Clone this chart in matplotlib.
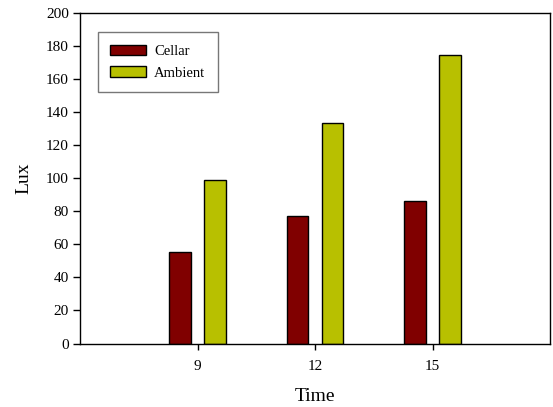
import numpy as np
import matplotlib
matplotlib.use("Agg")
import matplotlib.pyplot as plt

# Data
times = [9, 12, 15]
cellar = [55.5, 77, 86]
ambient = [99, 133, 174.5]

plt.rcParams['font.family'] = ['Liberation Serif', 'DejaVu Serif']

fig = plt.figure(figsize=(5.53, 4.07), dpi=100)
ax = fig.add_axes([0.1447, 0.156, 0.85, 0.813])

x = np.array(times, dtype=float)
offset = 0.45
width = 0.55
ax.bar(x - offset, cellar, width, color='#800000', edgecolor='black', linewidth=1.0, label='Cellar')
ax.bar(x + offset, ambient, width, color='#b8c000', edgecolor='black', linewidth=1.0, label='Ambient')

ax.set_xlim(6, 18)
ax.set_ylim(0, 200)
ax.set_xticks(times)
ax.set_yticks(np.arange(0, 201, 20))
ax.tick_params(axis='both', direction='out', labelsize=11, width=1.0)
ax.tick_params(axis='y', length=5, pad=3)
ax.tick_params(axis='x', length=4, pad=8)

ax.set_xlabel('Time', fontsize=14, labelpad=11)
ax.set_ylabel('Lux', fontsize=14, labelpad=10)

for s in ax.spines.values():
    s.set_linewidth(1.0)

leg = ax.legend(loc='upper left', bbox_to_anchor=(0.038, 0.941), fontsize=10.5,
                frameon=True, fancybox=False, edgecolor='#555555',
                handlelength=2.45, handleheight=0.7, borderpad=0.85,
                labelspacing=0.6, handletextpad=0.55, borderaxespad=0)
leg.get_frame().set_linewidth(1.0)

fig.savefig('out.png', dpi=100)
